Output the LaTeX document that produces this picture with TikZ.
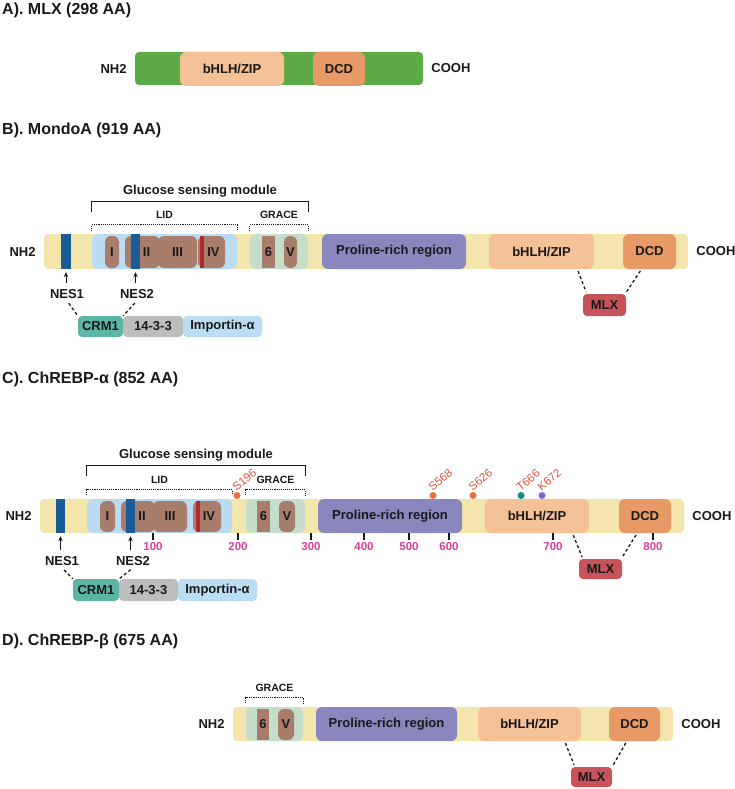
\documentclass[tikz,border=0pt]{standalone}
\usepackage{fontspec}
\setmainfont{Liberation Sans}
\usepackage{tikz}
\usetikzlibrary{arrows.meta, positioning, calc, fit}
\definecolor{mydark}{RGB}{25,25,25}
\definecolor{barbg}{HTML}{F3E5AC}
\definecolor{mlxgreen}{HTML}{5DAB46}
\definecolor{lidblue}{HTML}{BADCF2}
\definecolor{gracegreen}{HTML}{C6DEC9}
\definecolor{motifbrown}{HTML}{A97D6B}
\definecolor{nesblue}{HTML}{1A5C98}
\definecolor{ivred}{HTML}{B3262A}
\definecolor{prolpurple}{HTML}{8A86BE}
\definecolor{bhlhpeach}{HTML}{F5C197}
\definecolor{dcdorange}{HTML}{E79A66}
\definecolor{mlxred}{HTML}{C9535A}
\definecolor{crmteal}{HTML}{5DB5A5}
\definecolor{ywgrey}{HTML}{BDBDBD}
\definecolor{impblue}{HTML}{BBDDF3}
\definecolor{tickpink}{HTML}{D93E9F}
\definecolor{sitered}{HTML}{E2533F}
\definecolor{siteorange}{HTML}{E8703A}
\definecolor{siteteal}{HTML}{138E8A}
\definecolor{sitepurple}{HTML}{7B6AD6}
\newcommand{\lblfont}{\fontsize{13}{15}\selectfont\bfseries}
\newcommand{\headfont}{\fontsize{16}{19}\selectfont\bfseries}
\newcommand{\minifont}{\fontsize{10.5}{12}\selectfont\bfseries}
\newcommand{\tickfont}{\fontsize{11.5}{13}\selectfont\bfseries}
\newcommand{\sitefont}{\fontsize{11.5}{13}\selectfont}
\tikzset{
  heading/.style={font=\headfont, text=mydark, anchor=west, inner sep=0pt},
  bar/.style={rectangle, fill=barbg, rounded corners=4pt, inner sep=0pt},
  region/.style={rectangle, rounded corners=6pt, inner sep=0pt},
  motif/.style={rectangle, fill=motifbrown, rounded corners=6pt, inner sep=0pt},
  stripe/.style={rectangle, fill=nesblue, inner sep=0pt},
  redstripe/.style={rectangle, fill=ivred, inner sep=0pt},
  partner/.style={rectangle, rounded corners=4pt, inner sep=0pt},
  boxtext/.style={label={[lbl, inner sep=0pt]center:#1}},
  lbl/.style={font=\lblfont, text=mydark, inner sep=2pt},
  minilbl/.style={font=\minifont, text=mydark, inner sep=1pt},
  brk/.style={line width=1pt, color=mydark},
  dotbrk/.style={line width=1.1pt, densely dotted, color=mydark},
  link/.style={line width=1.3pt, dash pattern=on 3pt off 2.5pt, color=mydark},
  pointer/.style={-{Stealth[length=5pt,width=4.5pt]}, line width=0.9pt, color=mydark},
  tickmark/.style={line width=1.3pt, color=mydark},
  ticklbl/.style={font=\tickfont, text=tickpink, inner sep=1pt},
  site/.style={circle, inner sep=0pt, minimum size=7pt},
  sitelbl/.style={font=\sitefont, text=sitered, rotate=40, anchor=west, inner sep=0pt}
}
\begin{document}
\begin{tikzpicture}[x=1pt, y=-1pt]
  \useasboundingbox (0,0) rectangle (735,789);

  % ── A). MLX ───────────────────────────────────────────────────────────────
  \node[heading] (titleA) at (2,10) {A). MLX (298 AA)};
  \node[bar, fill=mlxgreen, fit={(135,52)(423,85)}] (barA) {};
  \node[region, fill=bhlhpeach, fit={(180,52)(284,86)}, boxtext=bHLH/ZIP] (bhlhA) {};
  \node[region, fill=dcdorange, fit={(313,52)(365,86)}, boxtext=DCD] (dcdA) {};
  \node[lbl, left=6pt of barA] (nA) {NH2};
  \node[lbl, right=6pt of barA] (cA) {COOH};

  % ── B). MondoA ────────────────────────────────────────────────────────────
  \node[heading] (titleB) at (2,130) {B). MondoA (919 AA)};
  \node[bar, fit={(44,234)(688,269)}] (barB) {};
  \node[stripe, fit={(61,234)(71,269)}] (nes1sB) {};
  \node[region, fill=lidblue, fit={(92,234)(237,269)}] (lidB) {};
  \node[motif, fit={(105,236)(119,268)}, boxtext=I] (m1B) {};
  \node[motif, fit={(125,236)(160,268)}] (m2B) {};
  \node[motif, fit={(158,236)(197,268)}, boxtext=III] (m3B) {};
  \node[stripe, fit={(131,234)(140,269)}] (nes2sB) {};
  \node[lbl] at ([xshift=4pt]m2B.center) {II};
  \node[motif, fit={(198,236)(225,268)}] (m4B) {};
  \node[redstripe, fit={(200,236)(204,268)}] (redB) {};
  \node[lbl] at ([xshift=2pt]m4B.center) {IV};
  \node[region, fill=gracegreen, fit={(250,234)(308,269)}] (graceB) {};
  \node[motif, rounded corners=0pt, fit={(262,236)(275,268)}, boxtext=6] (m6B) {};
  \node[motif, fit={(284,236)(297,268)}, boxtext=V] (m5B) {};
  \node[region, fill=prolpurple, fit={(322,234)(466,269)}, boxtext=Proline-rich region] (proB) {};
  \node[region, fill=bhlhpeach, fit={(489,234)(594,269)}, boxtext=bHLH/ZIP] (bhlhB) {};
  \node[region, fill=dcdorange, fit={(623,234)(676,269)}, boxtext=DCD] (dcdB) {};
  \node[lbl, left=6pt of barB] (nB) {NH2};
  \node[lbl, right=6pt of barB] (cB) {COOH};
  % brackets
  \draw[brk] ([yshift=22pt]lidB.north west) -- ([yshift=32pt]lidB.north west)
    -- ([yshift=32pt]graceB.north east) -- ([yshift=22pt]graceB.north east);
  \node[lbl] (gsmB) at ($(lidB.north west)!.5!(graceB.north east) + (0,-43)$) {Glucose sensing module};
  \draw[dotbrk] ([yshift=3pt]lidB.north west) -- ([yshift=9pt]lidB.north west)
    -- ([yshift=9pt]lidB.north east) -- ([yshift=3pt]lidB.north east);
  \node[minilbl] (lidlB) at ([yshift=19pt]lidB.north) {LID};
  \draw[dotbrk] ([yshift=3pt]graceB.north west) -- ([yshift=9pt]graceB.north west)
    -- ([yshift=9pt]graceB.north east) -- ([yshift=3pt]graceB.north east);
  \node[minilbl] (gracelB) at ([yshift=19pt]graceB.north) {GRACE};
  % export signals and partners
  \node[lbl] (nes1B) at (67,294) {NES1};
  \node[lbl] (nes2B) at (137,294) {NES2};
  \draw[pointer, shorten <=4pt] (nes1sB.south |- nes1B.north) -- ([yshift=-3pt]nes1sB.south);
  \draw[pointer, shorten <=4pt] (nes2sB.south |- nes2B.north) -- ([yshift=-3pt]nes2sB.south);
  \node[partner, fill=crmteal, fit={(78,316)(123,337)}, boxtext=CRM1] (crmB) {};
  \node[partner, fill=ywgrey, fit={(123,316)(183,337)}, boxtext=14-3-3] (ywB) {};
  \node[partner, fill=impblue, fit={(183,316)(262,337)}, boxtext=Importin-α] (impB) {};
  \draw[link, shorten <=3pt] (nes1B.south) -- (crmB.north west);
  \draw[link, shorten <=3pt] (nes2B.south) -- (crmB.north east);
  \node[partner, fill=mlxred, fit={(583,294)(626,316)}, boxtext=MLX] (mlxB) {};
  \draw[link, shorten <=2pt, shorten >=2pt] ($(bhlhB.south west)!.84!(bhlhB.south east)$) -- ([xshift=4pt]mlxB.north west);
  \draw[link, shorten <=2pt, shorten >=2pt] ($(dcdB.south west)!.35!(dcdB.south east)$) -- ([xshift=-1pt]mlxB.north east);

  % ── C). ChREBP-alpha ──────────────────────────────────────────────────────
  \node[heading] (titleC) at (2,379) {C). ChREBP-α (852 AA)};
  \node[bar, fit={(40,499)(684,533)}] (barC) {};
  \node[stripe, fit={(56,499)(65,533)}] (nes1sC) {};
  \node[region, fill=lidblue, fit={(87,499)(232,533)}] (lidC) {};
  \node[motif, fit={(100,501)(115,532)}, boxtext=I] (m1C) {};
  \node[motif, fit={(121,501)(155,532)}] (m2C) {};
  \node[motif, fit={(153,501)(187,532)}, boxtext=III] (m3C) {};
  \node[stripe, fit={(126,499)(135,533)}] (nes2sC) {};
  \node[lbl] at ([xshift=4pt]m2C.center) {II};
  \node[motif, fit={(193,501)(221,532)}] (m4C) {};
  \node[redstripe, fit={(196,501)(200,532)}] (redC) {};
  \node[lbl] at ([xshift=2pt]m4C.center) {IV};
  \node[region, fill=gracegreen, fit={(246,499)(305,533)}] (graceC) {};
  \node[motif, rounded corners=0pt, fit={(257,501)(270,532)}, boxtext=6] (m6C) {};
  \node[motif, fit={(279,501)(295,532)}, boxtext=V] (m5C) {};
  \node[region, fill=prolpurple, fit={(318,499)(462,533)}, boxtext=Proline-rich region] (proC) {};
  \node[region, fill=bhlhpeach, fit={(485,499)(589,533)}, boxtext=bHLH/ZIP] (bhlhC) {};
  \node[region, fill=dcdorange, fit={(619,499)(671,533)}, boxtext=DCD] (dcdC) {};
  \node[lbl, left=6pt of barC] (nC) {NH2};
  \node[lbl, right=6pt of barC] (cC) {COOH};
  % residue scale
  \foreach \tx/\tl in {153/100, 238/200, 311/300, 364/400, 409/500, 449/600, 553/700, 653/800}{
    \draw[tickmark] (barC.south -| \tx,0) -- ++(0,7);
    \node[ticklbl] at (\tx,547) {\tl};
  }
  % brackets
  \draw[brk] ([yshift=23pt]lidC.north west) -- ([yshift=33pt]lidC.north west)
    -- ([yshift=33pt]graceC.north east) -- ([yshift=23pt]graceC.north east);
  \node[lbl] (gsmC) at ($(lidC.north west)!.5!(graceC.north east) + (0,-44)$) {Glucose sensing module};
  \draw[dotbrk] ([yshift=4pt]lidC.north west) -- ([yshift=9pt]lidC.north west)
    -- ([yshift=9pt]lidC.north east) -- ([yshift=4pt]lidC.north east);
  \node[minilbl] (lidlC) at ([yshift=19pt]lidC.north) {LID};
  \draw[dotbrk] ([yshift=4pt]graceC.north west) -- ([yshift=9pt]graceC.north west)
    -- ([yshift=9pt]graceC.north east) -- ([yshift=4pt]graceC.north east);
  \node[minilbl] (gracelC) at ([yshift=19pt]graceC.north) {GRACE};
  % modified residues
  \node[site, fill=siteorange] (s196) at (237,495.5) {};
  \node[site, fill=siteorange] (s568) at (433,495.5) {};
  \node[site, fill=siteorange] (s626) at (473,495.5) {};
  \node[site, fill=siteteal] (t666) at (521,495.5) {};
  \node[site, fill=sitepurple] (k672) at (542,495.5) {};
  \node[sitelbl] at ([shift={(-3pt,3pt)}]s196.north) {S196};
  \node[sitelbl] at ([shift={(-3pt,3pt)}]s568.north) {S568};
  \node[sitelbl] at ([shift={(-3pt,3pt)}]s626.north) {S626};
  \node[sitelbl] at ([shift={(-3pt,3pt)}]t666.north) {T666};
  \node[sitelbl] at ([shift={(-3pt,3pt)}]k672.north) {K672};
  % export signals and partners
  \node[lbl] (nes1C) at (62,561) {NES1};
  \node[lbl] (nes2C) at (133,561) {NES2};
  \draw[pointer, shorten <=4pt] (nes1sC.south |- nes1C.north) -- ([yshift=-3pt]nes1sC.south);
  \draw[pointer, shorten <=4pt] (nes2sC.south |- nes2C.north) -- ([yshift=-3pt]nes2sC.south);
  \node[partner, fill=crmteal, fit={(73,579)(119,601)}, boxtext=CRM1] (crmC) {};
  \node[partner, fill=ywgrey, fit={(119,579)(178,601)}, boxtext=14-3-3] (ywC) {};
  \node[partner, fill=impblue, fit={(178,579)(257,601)}, boxtext=Importin-α] (impC) {};
  \draw[link, shorten <=3pt] (nes1C.south) -- (crmC.north west);
  \draw[link, shorten <=3pt] (nes2C.south) -- (crmC.north east);
  \node[partner, fill=mlxred, fit={(579,559)(622,579)}, boxtext=MLX] (mlxC) {};
  \draw[link, shorten <=2pt, shorten >=2pt] ($(bhlhC.south west)!.84!(bhlhC.south east)$) -- ([xshift=4pt]mlxC.north west);
  \draw[link, shorten <=2pt, shorten >=2pt] ($(dcdC.south west)!.35!(dcdC.south east)$) -- ([xshift=-1pt]mlxC.north east);

  % ── D). ChREBP-beta ───────────────────────────────────────────────────────
  \node[heading] (titleD) at (2,641) {D). ChREBP-β (675 AA)};
  \node[bar, fit={(233,707)(673,741)}] (barD) {};
  \node[region, fill=gracegreen, fit={(246,707)(303,741)}] (graceD) {};
  \node[motif, rounded corners=0pt, fit={(257,709)(269,740)}, boxtext=6] (m6D) {};
  \node[motif, fit={(278,709)(294,740)}, boxtext=V] (m5D) {};
  \node[region, fill=prolpurple, fit={(316,707)(457,741)}, boxtext=Proline-rich region] (proD) {};
  \node[region, fill=bhlhpeach, fit={(478,707)(581,741)}, boxtext=bHLH/ZIP] (bhlhD) {};
  \node[region, fill=dcdorange, fit={(609,707)(660,741)}, boxtext=DCD] (dcdD) {};
  \node[lbl, left=6pt of barD] (nD) {NH2};
  \node[lbl, right=6pt of barD] (cD) {COOH};
  \draw[dotbrk] ([yshift=4pt]graceD.north west) -- ([yshift=9pt]graceD.north west)
    -- ([yshift=9pt]graceD.north east) -- ([yshift=4pt]graceD.north east);
  \node[minilbl] (gracelD) at ([yshift=19pt]graceD.north) {GRACE};
  \node[partner, fill=mlxred, fit={(571,767)(612,787)}, boxtext=MLX] (mlxD) {};
  \draw[link, shorten <=2pt, shorten >=2pt] ($(bhlhD.south west)!.84!(bhlhD.south east)$) -- ([xshift=4pt]mlxD.north west);
  \draw[link, shorten <=2pt, shorten >=2pt] ($(dcdD.south west)!.35!(dcdD.south east)$) -- (mlxD.north east);
\end{tikzpicture}
\end{document}
